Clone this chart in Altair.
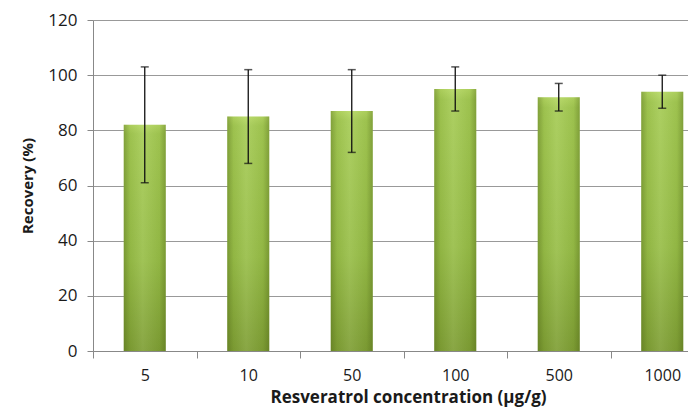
import altair as alt
import pandas as pd

concentrations = ["5", "10", "50", "100", "500", "1000"]
recovery = [82, 85, 87, 95, 92, 94]
err_low = [61, 68, 72, 87, 87, 88]
err_high = [103, 102, 102, 103, 97, 100]

df = pd.DataFrame({
    "conc": concentrations,
    "recovery": recovery,
    "lo": err_low,
    "hi": err_high,
})

FONT = "Open Sans"

x = alt.X(
    "conc:N",
    sort=concentrations,
    scale=alt.Scale(range=[0, 621], paddingInner=0, paddingOuter=0),
    axis=alt.Axis(
        title="Resveratrol concentration (µg/g)",
        tickBand="extent",
        labelAngle=0,
        labelFont=FONT,
        labelFontSize=16,
        labelColor="#1a1a1a",
        labelPadding=9,
        tickSize=7,
        tickColor="#888888",
        domainColor="#888888",
        titleFont=FONT,
        titleFontSize=17,
        titleFontWeight="bold",
        titleColor="#1a1a1a",
        titlePadding=6,
        titleX=315,
        grid=False,
    ),
)

y_axis = alt.Axis(
    title="Recovery (%)",
    values=[0, 20, 40, 60, 80, 100, 120],
    labelFont=FONT,
    labelFontSize=17,
    labelColor="#1a1a1a",
    labelPadding=10,
    tickSize=6,
    tickColor="#888888",
    domainColor="#888888",
    gridColor="#999999",
    gridWidth=1,
    titleFont=FONT,
    titleFontSize=15,
    titleFontWeight="bold",
    titleColor="#1a1a1a",
    titlePadding=12,
)
y_scale = alt.Scale(domain=[0, 120], nice=False)

base = alt.Chart(df)

bars = base.mark_bar(
    width=42,
    color=alt.Gradient(
        gradient="linear",
        x1=0, x2=0, y1=0, y2=1,
        stops=[
            alt.GradientStop(offset=0, color="#b5d862"),
            alt.GradientStop(offset=0.04, color="#a5cb54"),
            alt.GradientStop(offset=0.6, color="#98be48"),
            alt.GradientStop(offset=1, color="#7f9f35"),
        ],
    ),
).encode(x=x, y=alt.Y("recovery:Q", scale=y_scale, axis=y_axis))

shade = base.mark_bar(
    width=42,
    color=alt.Gradient(
        gradient="linear",
        x1=0, x2=1, y1=0, y2=0,
        stops=[
            alt.GradientStop(offset=0, color="rgba(60,80,10,0.35)"),
            alt.GradientStop(offset=0.15, color="rgba(60,80,10,0.08)"),
            alt.GradientStop(offset=0.45, color="rgba(255,255,255,0.08)"),
            alt.GradientStop(offset=0.85, color="rgba(60,80,10,0.08)"),
            alt.GradientStop(offset=1, color="rgba(60,80,10,0.35)"),
        ],
    ),
).encode(x=x, y=alt.Y("recovery:Q"))

rules = base.mark_rule(color="#111111", strokeWidth=1.3).encode(
    x=x, y=alt.Y("lo:Q"), y2="hi:Q"
)
cap_hi = base.mark_tick(color="#111111", size=8, thickness=1.5).encode(
    x=x, y=alt.Y("hi:Q")
)
cap_lo = base.mark_tick(color="#111111", size=8, thickness=1.5).encode(
    x=x, y=alt.Y("lo:Q")
)

chart = (
    alt.layer(bars, shade, rules, cap_hi, cap_lo)
    .properties(
        width=595,
        height=331,
        autosize=alt.AutoSizeParams(type="none"),
        padding={"left": 85, "top": 12, "right": 0, "bottom": 56},
    )
    .configure_view(stroke=None)
)

chart.save("out.html", embed_options={"renderer": "svg", "actions": False})
